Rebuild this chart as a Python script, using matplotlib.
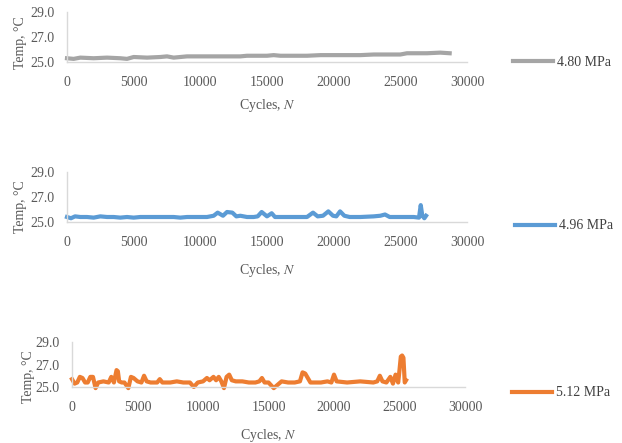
import matplotlib.pyplot as plt

plt.rcParams['font.family'] = ['Liberation Serif', 'DejaVu Serif']
plt.rcParams['mathtext.fontset'] = 'stix'

# 4.80 MPa
cyc_480 = [0, 500, 1000, 2000, 3000, 4000, 4500, 5000, 6000, 7000,
           7500, 8000, 9000, 10000, 11000, 12000, 13000, 13500, 14000, 15000,
           15500, 16000, 17000, 18000, 19000, 20000, 21000, 22000, 23000, 24000,
           25000, 25500, 26000, 27000, 28000, 28700]
temp_480 = [25.3, 25.25, 25.35, 25.3, 25.35, 25.3, 25.25, 25.4, 25.35, 25.4,
            25.45, 25.35, 25.45, 25.45, 25.45, 25.45, 25.45, 25.5, 25.5, 25.5,
            25.55, 25.5, 25.5, 25.5, 25.55, 25.55, 25.55, 25.55, 25.6, 25.6,
            25.6, 25.7, 25.7, 25.7, 25.75, 25.7]

# 4.96 MPa
cyc_496 = [0, 300, 600, 1000, 1500, 2000, 2500, 3000, 3500, 4000,
           4500, 5000, 5500, 6000, 7000, 8000, 8500, 9000, 10000, 10500,
           11000, 11300, 11700, 12000, 12400, 12700, 13000, 13500, 14000, 14300,
           14600, 15000, 15350, 15600, 16000, 17000, 18000, 18450, 18800, 19200,
           19600, 19950, 20200, 20480, 20800, 21200, 22000, 23000, 23500, 23850,
           24200, 25000, 26000, 26400, 26530, 26650, 26800, 26930]
temp_496 = [25.4, 25.3, 25.45, 25.4, 25.4, 25.35, 25.45, 25.4, 25.4, 25.35,
            25.4, 25.35, 25.4, 25.4, 25.4, 25.4, 25.35, 25.4, 25.4, 25.4,
            25.5, 25.75, 25.5, 25.8, 25.75, 25.45, 25.5, 25.4, 25.4, 25.45,
            25.8, 25.45, 25.7, 25.4, 25.4, 25.4, 25.4, 25.75, 25.45, 25.5,
            25.85, 25.5, 25.45, 25.85, 25.5, 25.4, 25.4, 25.45, 25.5, 25.6,
            25.4, 25.4, 25.4, 25.35, 26.35, 25.5, 25.3, 25.5]

# 5.12 MPa
cyc_512 = [0, 200, 400, 600, 800, 1000, 1200, 1400, 1600, 1800,
           2000, 2400, 2800, 3000, 3200, 3400, 3500, 3600, 3800, 4000,
           4300, 4500, 4700, 5000, 5300, 5500, 5700, 6000, 6500, 6700,
           6900, 7500, 8000, 8500, 9000, 9300, 9600, 10000, 10300, 10500,
           10800, 11000, 11200, 11400, 11600, 11800, 12000, 12200, 12500, 13000,
           13500, 14000, 14300, 14500, 14700, 15000, 15400, 16000, 16500, 17000,
           17400, 17600, 17800, 18200, 19000, 19500, 19800, 20000, 20200, 21000,
           22000, 23000, 23300, 23500, 23700, 24000, 24300, 24500, 24700, 24900,
           25000, 25100, 25200, 25300, 25400, 25500]
temp_512 = [25.7, 25.3, 25.4, 25.9, 25.8, 25.4, 25.4, 25.9, 25.9, 24.9,
            25.4, 25.5, 25.4, 25.9, 25.4, 26.5, 26.4, 25.5, 25.4, 25.4,
            24.9, 25.9, 25.8, 25.5, 25.4, 26.0, 25.5, 25.4, 25.4, 25.7,
            25.4, 25.4, 25.5, 25.4, 25.4, 25.0, 25.4, 25.5, 25.8, 25.6,
            25.9, 25.6, 25.9, 25.5, 24.9, 25.9, 26.1, 25.6, 25.5, 25.5,
            25.4, 25.4, 25.5, 25.8, 25.4, 25.4, 24.9, 25.5, 25.4, 25.4,
            25.5, 26.3, 26.2, 25.4, 25.4, 25.5, 25.4, 26.1, 25.5, 25.4,
            25.5, 25.4, 25.5, 26.0, 25.5, 25.4, 25.9, 25.3, 26.1, 25.4,
            26.5, 27.7, 27.8, 27.6, 25.4, 25.6]

labels = ['4.80 MPa', '4.96 MPa', '5.12 MPa']
colors = ['#a5a5a5', '#5b9bd5', '#ed7d31']
series = [(cyc_480, temp_480), (cyc_496, temp_496), (cyc_512, temp_512)]

W, H = 622, 443
# axes boxes in pixels: left, top, right, bottom
boxes = [(67, 12, 467, 62), (67, 172, 467, 222), (72, 342, 465, 387)]
legend_pos = [(513, 62), (515, 226), (512, 393)]
ylab_y = [0.38, 0.30, 0.24]
ylab_x = [-0.10, -0.10, -0.095]
xlab_y = [-0.70, -0.80, -0.89]

fig = plt.figure(figsize=(W / 100, H / 100), dpi=100)
grey = '#595959'

for i, (x, y) in enumerate(series):
    l, t, r, b = boxes[i]
    ax = fig.add_axes([l / W, 1 - b / H, (r - l) / W, (b - t) / H])
    ax.plot(x, y, color=colors[i], lw=3, label=labels[i], clip_on=False,
            solid_joinstyle='round')
    ax.set_xlim(0, 30000)
    ax.set_ylim(25, 29)
    ax.set_xticks(range(0, 30001, 5000))
    ax.set_yticks([25, 27, 29])
    ax.set_yticklabels(['25.0', '27.0', '29.0'])
    for s in ['top', 'right']:
        ax.spines[s].set_visible(False)
    for s in ['left', 'bottom']:
        ax.spines[s].set_color('#d9d9d9')
        ax.spines[s].set_linewidth(1)
    ax.tick_params(length=0, labelsize=10, colors=grey)
    ax.tick_params(axis='x', pad=10)
    ax.tick_params(axis='y', pad=9)
    ax.set_ylabel('Temp, °C', fontsize=10, color=grey)
    ax.yaxis.set_label_coords(ylab_x[i], ylab_y[i])
    ax.set_xlabel('Cycles, $\\it{N}$', fontsize=10, color=grey)
    ax.xaxis.set_label_coords(0.5, xlab_y[i])

    lx, ly = legend_pos[i]
    ax.legend(loc='center left', bbox_to_anchor=(lx / W, 1 - ly / H),
              bbox_transform=fig.transFigure, frameon=False, fontsize=10,
              handlelength=2.9, handletextpad=0.3, borderpad=0,
              borderaxespad=0, labelcolor='#404040')

plt.savefig('out.png', dpi=100)
